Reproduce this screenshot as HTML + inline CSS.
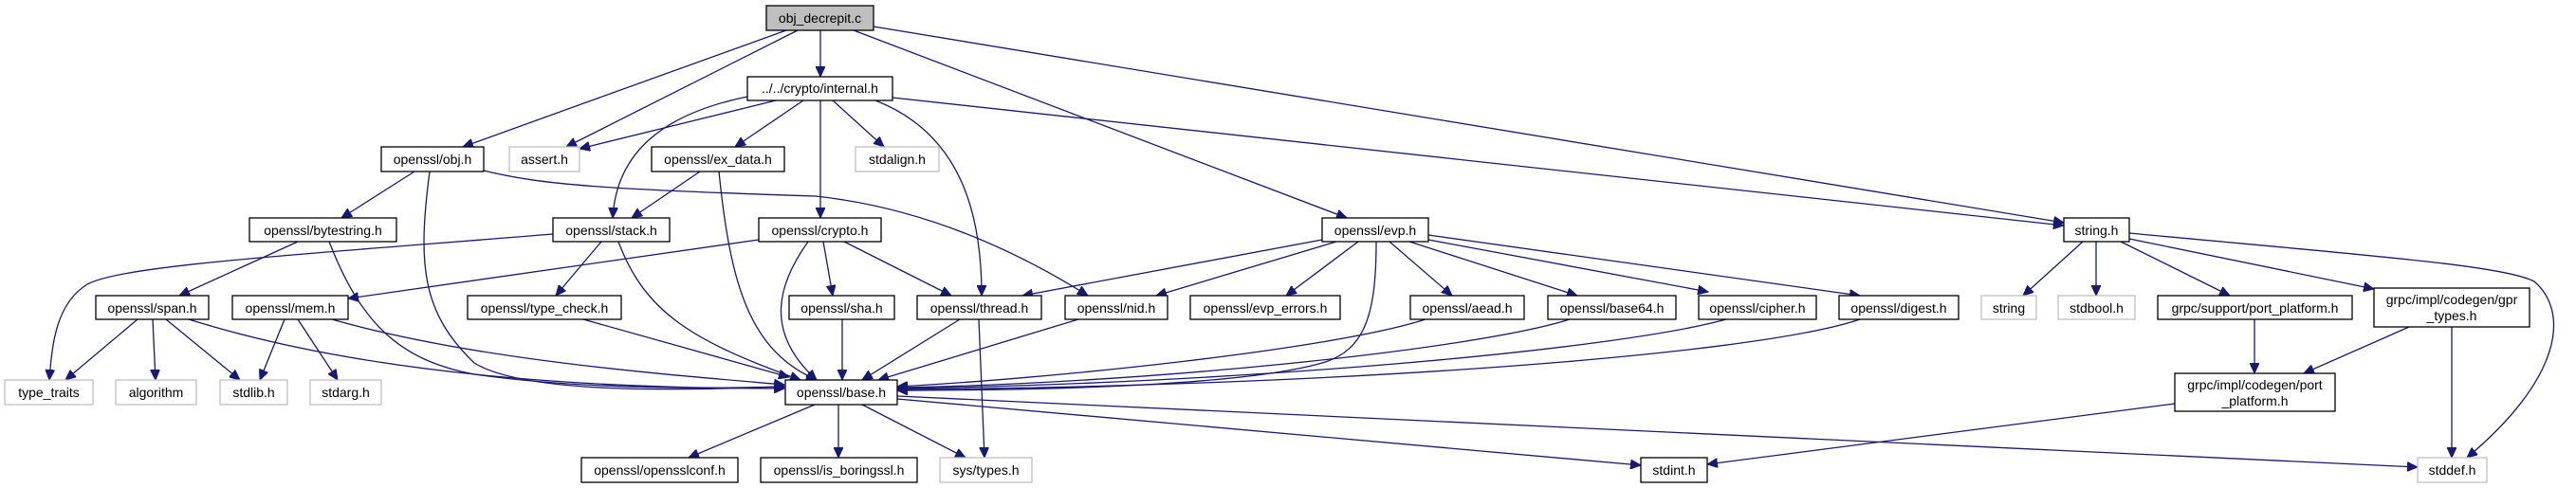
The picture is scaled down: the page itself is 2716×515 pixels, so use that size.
<!DOCTYPE html>
<html><head><meta charset="utf-8"><style>
html,body{margin:0;padding:0;background:#fff;}
svg{display:block;}
text{font-family:"Liberation Sans",sans-serif;font-size:14px;fill:#000;}
.n{fill:#fff;stroke:#000;stroke-width:1.3;}
.g{fill:#fff;stroke:#bfbfbf;stroke-width:1.3;}
.e{fill:none;stroke:#191970;stroke-width:1.3;}
</style></head><body>
<svg width="2716" height="515" viewBox="0 0 2716 515" xmlns="http://www.w3.org/2000/svg">
<defs><marker id="a" markerUnits="userSpaceOnUse" markerWidth="12" markerHeight="10" refX="11" refY="5" orient="auto"><path d="M0,0 L11,5 L0,10 z" fill="#191970" stroke="#191970"/></marker></defs>
<g class="e" marker-end="url(#a)">
<path d="M829,32 L488,155"/>
<path d="M841,32 L597,155"/>
<path d="M865,32 L865,81"/>
<path d="M900,32 L1420,230"/>
<path d="M921,28 L2176,235"/>
<path d="M788,102 C700,120 650,160 646,230"/>
<path d="M818,106 L611,157"/>
<path d="M847,106 L775,155"/>
<path d="M865,106 L865,230"/>
<path d="M878,106 L932,155"/>
<path d="M923,106 C1010,140 1035,220 1035,312"/>
<path d="M941,103 L2176,238"/>
<path d="M437,181 L360,230"/>
<path d="M453,181 C440,280 445,330 500,383 C560,420 760,410 827,408"/>
<path d="M510,180 C570,195 640,200 860,207 C980,220 1080,270 1147,312"/>
<path d="M738,181 L666,230"/>
<path d="M758,181 C770,300 790,370 861,401"/>
<path d="M314,255 L189,312"/>
<path d="M347,255 C380,340 420,380 500,395 C620,412 760,410 827,408"/>
<path d="M583,247 C300,270 130,280 92,300 C60,320 55,360 52,401"/>
<path d="M634,255 L586,312"/>
<path d="M652,255 C680,330 730,360 844,401"/>
<path d="M800,253 L367,315"/>
<path d="M852,255 C820,300 805,350 861,401"/>
<path d="M868,255 L878,312"/>
<path d="M890,255 L1003,312"/>
<path d="M145,337 L69,401"/>
<path d="M161,337 L164,401"/>
<path d="M175,337 L253,401"/>
<path d="M199,337 C400,400 650,410 827,410"/>
<path d="M300,337 L274,401"/>
<path d="M314,337 L356,401"/>
<path d="M350,337 C500,380 700,395 827,406"/>
<path d="M615,337 L832,398"/>
<path d="M888,337 L888,401"/>
<path d="M1012,337 L909,401"/>
<path d="M1032,337 L1038,483"/>
<path d="M1137,337 L926,401"/>
<path d="M1394,253 L1078,312"/>
<path d="M1409,255 L1219,312"/>
<path d="M1432,255 L1356,312"/>
<path d="M1451,255 C1451,330 1440,370 1394,383 C1300,410 1050,412 946,412"/>
<path d="M1465,255 L1531,312"/>
<path d="M1486,255 L1663,312"/>
<path d="M1506,253 L1801,308"/>
<path d="M1506,248 L1961,312"/>
<path d="M1503,337 C1400,370 1100,400 946,408"/>
<path d="M1655,337 C1550,370 1200,405 946,409"/>
<path d="M1820,337 C1700,370 1300,405 946,410"/>
<path d="M1961,337 C1850,375 1400,408 946,411"/>
<path d="M859,427 L726,483"/>
<path d="M884,427 L884,483"/>
<path d="M909,427 L1018,483"/>
<path d="M946,421 L1730,491"/>
<path d="M946,418 L2549,493"/>
<path d="M2196,255 L2133,312"/>
<path d="M2210,255 L2210,312"/>
<path d="M2236,255 L2351,312"/>
<path d="M2245,252 L2503,305"/>
<path d="M2245,246 C2500,270 2640,280 2672,297 C2710,330 2700,400 2601,483"/>
<path d="M2377,337 L2377,394"/>
<path d="M2540,345 L2429,394"/>
<path d="M2585,345 L2585,483"/>
<path d="M2293,426 L1800,490"/>
</g>
<g text-anchor="middle">
<rect x="808" y="6" width="113" height="26" fill="#bfbfbf" stroke="#000" stroke-width="1.3"/><text x="864.5" y="24">obj_decrepit.c</text>
<rect class="n" x="788" y="81" width="153" height="25"/><text x="864.5" y="98">../../crypto/internal.h</text>
<rect class="n" x="402" y="155" width="108" height="26"/><text x="456" y="173">openssl/obj.h</text>
<rect class="g" x="537" y="155" width="74" height="26"/><text x="574" y="173">assert.h</text>
<rect class="n" x="687" y="155" width="140" height="26"/><text x="757" y="173">openssl/ex_data.h</text>
<rect class="g" x="902" y="155" width="88" height="26"/><text x="946" y="173">stdalign.h</text>
<rect class="n" x="263" y="230" width="155" height="25"/><text x="340.5" y="248">openssl/bytestring.h</text>
<rect class="n" x="583" y="230" width="123" height="25"/><text x="644.5" y="248">openssl/stack.h</text>
<rect class="n" x="800" y="230" width="129" height="25"/><text x="864.5" y="248">openssl/crypto.h</text>
<rect class="n" x="1394" y="230" width="112" height="25"/><text x="1450" y="248">openssl/evp.h</text>
<rect class="n" x="2176" y="230" width="69" height="25"/><text x="2210.5" y="248">string.h</text>
<rect class="n" x="101" y="312" width="119" height="25"/><text x="160.5" y="330">openssl/span.h</text>
<rect class="n" x="245" y="312" width="122" height="25"/><text x="306" y="330">openssl/mem.h</text>
<rect class="n" x="493" y="312" width="162" height="25"/><text x="574" y="330">openssl/type_check.h</text>
<rect class="n" x="832" y="312" width="111" height="25"/><text x="887.5" y="330">openssl/sha.h</text>
<rect class="n" x="967" y="312" width="131" height="25"/><text x="1032.5" y="330">openssl/thread.h</text>
<rect class="n" x="1123" y="312" width="108" height="25"/><text x="1177" y="330">openssl/nid.h</text>
<rect class="n" x="1255" y="312" width="158" height="25"/><text x="1334" y="330">openssl/evp_errors.h</text>
<rect class="n" x="1487" y="312" width="120" height="25"/><text x="1547" y="330">openssl/aead.h</text>
<rect class="n" x="1632" y="312" width="135" height="25"/><text x="1699.5" y="330">openssl/base64.h</text>
<rect class="n" x="1791" y="312" width="124" height="25"/><text x="1853" y="330">openssl/cipher.h</text>
<rect class="n" x="1939" y="312" width="126" height="25"/><text x="2002" y="330">openssl/digest.h</text>
<rect class="g" x="2089" y="312" width="58" height="25"/><text x="2118" y="330">string</text>
<rect class="g" x="2170" y="312" width="81" height="25"/><text x="2210.5" y="330">stdbool.h</text>
<rect class="n" x="2275" y="312" width="205" height="25"/><text x="2377.5" y="330">grpc/support/port_platform.h</text>
<rect class="n" x="2503" y="304" width="164" height="41"/><text x="2585" y="321">grpc/impl/codegen/gpr</text><text x="2585" y="338">_types.h</text>
<rect class="g" x="5" y="401" width="93" height="26"/><text x="51.5" y="419">type_traits</text>
<rect class="g" x="122" y="401" width="85" height="26"/><text x="164.5" y="419">algorithm</text>
<rect class="g" x="232" y="401" width="71" height="26"/><text x="267.5" y="419">stdlib.h</text>
<rect class="g" x="327" y="401" width="75" height="26"/><text x="364.5" y="419">stdarg.h</text>
<rect class="n" x="828" y="401" width="118" height="26"/><text x="887" y="419">openssl/base.h</text>
<rect class="n" x="2293" y="394" width="169" height="40"/><text x="2377.5" y="411">grpc/impl/codegen/port</text><text x="2377.5" y="428">_platform.h</text>
<rect class="n" x="613" y="483" width="165" height="26"/><text x="695.5" y="501">openssl/opensslconf.h</text>
<rect class="n" x="802" y="483" width="165" height="26"/><text x="884.5" y="501">openssl/is_boringssl.h</text>
<rect class="g" x="991" y="483" width="97" height="26"/><text x="1039.5" y="501">sys/types.h</text>
<rect class="n" x="1730" y="483" width="70" height="26"/><text x="1765" y="501">stdint.h</text>
<rect class="g" x="2549" y="483" width="73" height="26"/><text x="2585.5" y="501">stddef.h</text>
</g>
</svg>
</body></html>
